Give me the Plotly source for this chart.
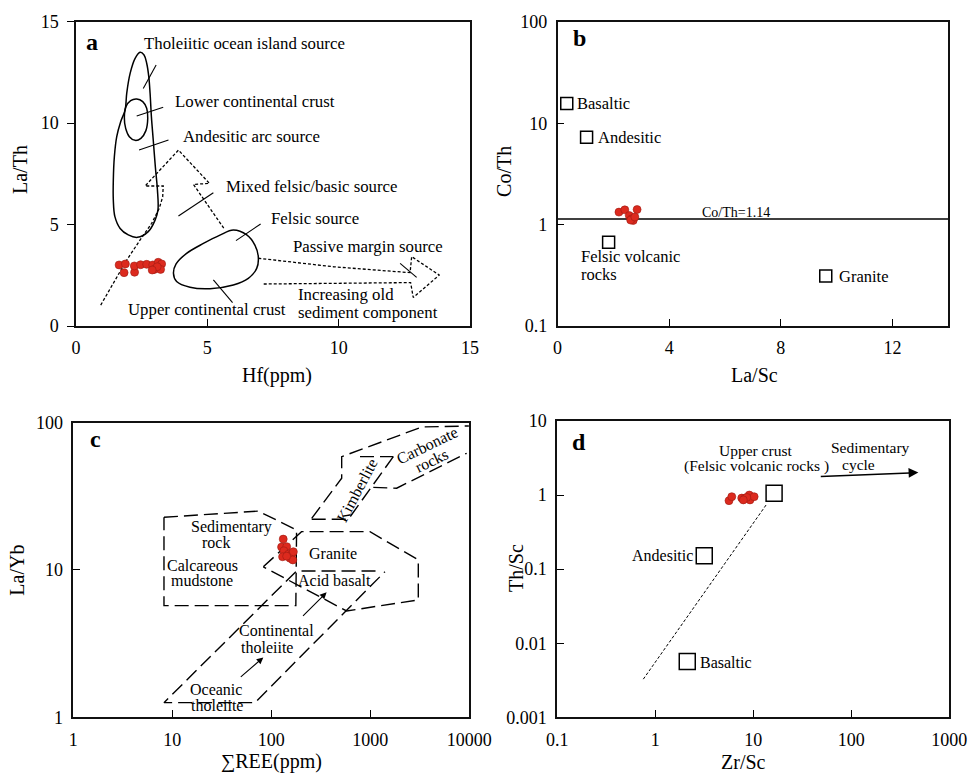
import numpy as np
import plotly.graph_objects as go

FONT = "Liberation Serif, Times New Roman, serif"
RED = "#dc2a1e"

# ---------------- Panel a : La/Th vs Hf ----------------
HF_A = [1.64, 1.88, 1.83, 2.23, 2.22, 2.46, 2.69, 2.92, 2.98, 3.13, 3.26, 3.22, 3.09, 2.90]
LATH_A = [3.01, 3.06, 2.63, 2.65, 2.96, 3.02, 3.04, 3.01, 2.79, 3.14, 3.06, 2.79, 2.92, 2.76]

OI_X = [2.44, 2.59, 2.69, 2.77, 2.82, 2.87, 2.94, 3.02, 3.10, 3.12, 3.01, 2.75, 2.34, 1.99, 1.68,
        1.48, 1.42, 1.42, 1.46, 1.55, 1.70, 1.87, 1.93, 2.06, 2.25, 2.44]
OI_Y = [13.49, 13.36, 12.95, 12.29, 11.47, 10.32, 9.17, 7.85, 6.70, 5.72, 5.22, 4.65, 4.37, 4.49, 4.81,
        5.39, 6.21, 7.20, 8.35, 9.33, 10.07, 10.65, 11.47, 12.45, 13.19, 13.49]
LCC_X = [2.31, 2.54, 2.69, 2.73, 2.66, 2.47, 2.25, 2.03, 1.89, 1.84, 1.90, 2.08, 2.31]
LCC_Y = [11.19, 11.06, 10.73, 10.24, 9.63, 9.25, 9.15, 9.33, 9.74, 10.28, 10.81, 11.11, 11.19]
FS_X = [5.99, 6.50, 6.81, 6.94, 6.88, 6.56, 5.99, 5.10, 4.34, 3.83, 3.71, 3.81, 4.21, 4.85, 5.48, 5.99]
FS_Y = [4.73, 4.49, 3.99, 3.42, 2.84, 2.35, 2.02, 1.84, 1.91, 2.19, 2.60, 3.06, 3.58, 4.07, 4.48, 4.73]
MIX_X = [0.94, 1.42, 1.93, 2.44, 2.88, 3.17, 3.30, 3.32, 2.63, 3.90, 5.08, 4.47, 4.97, 5.63]
MIX_Y = [1.03, 2.10, 3.25, 4.24, 5.06, 5.80, 6.37, 6.90, 6.90, 8.67, 7.03, 6.98, 6.05, 4.81]
PM_X = [6.94, 9.80, 12.72, 12.78, 13.83, 12.84, 12.74, 9.80, 7.13]
PM_Y = [3.34, 2.92, 2.63, 3.42, 2.51, 1.41, 2.14, 2.10, 2.07]
LEADERS_A = [  # (x0, y0, x1, y1)
    (2.56, 11.71, 3.05, 12.86),
    (2.31, 10.35, 3.32, 10.78),
    (2.40, 8.67, 3.52, 9.17),
    (3.90, 5.42, 5.23, 6.57),
    (6.09, 4.21, 7.03, 5.03),
    (5.23, 2.27, 5.96, 1.15),
    (12.34, 3.09, 12.97, 2.40),
]
LABELS_A = [  # text, x(left), y
    ("Tholeiitic ocean island source", 2.50, 13.93),
    ("Lower continental crust", 3.68, 11.05),
    ("Andesitic arc source", 4.00, 9.33),
    ("Mixed felsic/basic source", 5.64, 6.90),
    ("Felsic source", 7.36, 5.31),
    ("Passive margin source", 8.19, 3.91),
    ("Increasing old", 8.38, 1.53),
    ("sediment component", 8.38, 0.68),
    ("Upper continental crust", 1.90, 0.82),
]

# ---------------- Panel b : Co/Th vs La/Sc ----------------
LASC_B = [2.20, 2.41, 2.85, 2.57, 2.65, 2.71, 2.62, 2.77]
COTH_B = [1.33, 1.40, 1.41, 1.23, 1.14, 1.10, 1.11, 1.19]
REF_B_NAMES = ["Basaltic", "Andesitic", "Felsic volcanic rocks", "Granite"]
REF_B_X = [0.33, 1.04, 1.83, 9.61]
REF_B_Y = [15.7, 7.27, 0.67, 0.311]
COTH_LINE = 1.14

# ---------------- Panel c : La/Yb vs REE ----------------
REE_C = [132, 127, 143, 134, 149, 163, 130, 155, 165, 167, 143]
LAYB_C = [16.2, 14.3, 14.4, 13.5, 12.8, 13.0, 12.3, 12.0, 11.7, 13.3, 12.4]
SED_X = [8.24, 73.9, 180, 177, 8.24, 8.24]
SED_Y = [22.8, 25.1, 18.7, 5.73, 5.73, 22.8]
GRAN_X = [83.0, 202, 993, 3055, 3055, 577, 83.0]
GRAN_Y = [10.5, 18.2, 18.2, 11.7, 6.26, 5.27, 10.5]
THOL_X = [177, 8.24, 68.4, 1406]
THOL_Y = [9.74, 1.257, 1.257, 9.74]
ACID_X = [202, 1253]
ACID_Y = [9.84, 9.84]
KOUT_X = [256, 514, 514, 3327, 9900]
KOUT_Y = [22.4, 42.0, 58.8, 93.5, 95.0]
KIM_X = [256, 600, 1708]
KIM_Y = [22.1, 22.1, 58.8]
KTOP_X = [787, 1708]
KTOP_Y = [58.8, 58.8]
CARB_X = [1072, 1848, 9410]
CARB_Y = [36.4, 35.9, 62.0]
ARROWS_C = [((47.5, 1.84), (83.0, 2.55)), ((202, 4.77), (362, 7.05))]
LABELS_C = [  # text, x, y, angle
    ("Sedimentary", 39.7, 19.7, 0),
    ("rock", 27.6, 15.3, 0),
    ("Calcareous", 20.2, 10.8, 0),
    ("mudstone", 19.8, 8.42, 0),
    ("Granite", 423, 13.0, 0),
    ("Acid basalt", 440, 8.47, 0),
    ("Continental", 113, 3.88, 0),
    ("tholeiite", 89.7, 2.99, 0),
    ("Oceanic", 27.6, 1.55, 0),
    ("tholeiite", 28.1, 1.21, 0),
    ("Kimberlite", 728, 34.9, -62),
    ("Carbonate", 3707, 70.5, -26),
    ("rocks", 4165, 55.8, -26),
]

# ---------------- Panel d : Th/Sc vs Zr/Sc ----------------
ZRSC_D = [5.65, 6.03, 7.62, 8.23, 9.10, 9.25, 10.2, 8.57, 7.91]
THSC_D = [0.84, 0.95, 0.91, 0.91, 1.00, 0.86, 0.95, 0.93, 0.86]
REF_D_NAMES = ["Upper crust", "Andesitic", "Basaltic"]
REF_D_X = [16.3, 3.16, 2.12]
REF_D_Y = [1.06, 0.151, 0.00565]
TREND_D_X = [0.755, 13.5]
TREND_D_Y = [0.00327, 0.734]
SEDCYC_X = [47.1, 483]
SEDCYC_Y = [1.77, 2.01]

fig = go.Figure()


def add_line(ax, xs, ys, dash="solid", width=1.4, shape="linear"):
    fig.add_trace(go.Scatter(
        x=xs, y=ys, xaxis=ax[0], yaxis=ax[1], mode="lines",
        line=dict(color="black", width=width, dash=dash, shape=shape, smoothing=1.0),
        hoverinfo="skip", showlegend=False))


def add_dots(ax, xs, ys):
    fig.add_trace(go.Scatter(
        x=xs, y=ys, xaxis=ax[0], yaxis=ax[1], mode="markers",
        marker=dict(color=RED, size=8, line=dict(color="#9e1b12", width=0.6)),
        showlegend=False))


def add_squares(ax, xs, ys, size):
    fig.add_trace(go.Scatter(
        x=xs, y=ys, xaxis=ax[0], yaxis=ax[1], mode="markers",
        marker=dict(symbol="square-open", color="black", size=size, line=dict(color="black", width=1.5)),
        showlegend=False))


def add_text(ax, x, y, t, size=16, xanchor="center", logx=False, logy=False, angle=0):
    fig.add_annotation(
        x=np.log10(x) if logx else x, y=np.log10(y) if logy else y,
        xref=ax[0], yref=ax[1], text=t, showarrow=False, xanchor=xanchor, yanchor="middle",
        textangle=angle, font=dict(family=FONT, size=size, color="black"))


def add_paper_text(x, y, t, size=20, angle=0):
    fig.add_annotation(x=x, y=y, xref="paper", yref="paper", text=t, showarrow=False,
                       xanchor="center", yanchor="middle", textangle=angle,
                       font=dict(family=FONT, size=size, color="black"))


A = ("x", "y")
B = ("x2", "y2")
C = ("x3", "y3")
D = ("x4", "y4")

# ---- panel a
add_line(A, OI_X, OI_Y, width=1.5, shape="spline")
add_line(A, LCC_X, LCC_Y, width=1.5, shape="spline")
add_line(A, FS_X, FS_Y, width=1.5, shape="spline")
add_line(A, MIX_X, MIX_Y, dash="3px,2px", width=1.3)
add_line(A, PM_X, PM_Y, dash="3px,2px", width=1.3)
for x0, y0, x1, y1 in LEADERS_A:
    add_line(A, [x0, x1], [y0, y1], width=1.1)
add_dots(A, HF_A, LATH_A)
for t, x, y in LABELS_A:
    add_text(A, x, y, t, size=16.8, xanchor="left")
add_text(A, 0.6, 14.0, "<b>a</b>", size=24)

# ---- panel b
add_line(B, [0, 14], [COTH_LINE, COTH_LINE], width=1.5)
add_squares(B, REF_B_X, REF_B_Y, 12)
add_dots(B, LASC_B, COTH_B)
add_text(B, 0.62, REF_B_Y[0], REF_B_NAMES[0], size=16.5, xanchor="left", logy=True)
add_text(B, 1.38, REF_B_Y[1], REF_B_NAMES[1], size=16.5, xanchor="left", logy=True)
add_text(B, 0.77, 0.482, "Felsic volcanic", size=16.5, xanchor="left", logy=True)
add_text(B, 0.77, 0.325, "rocks", size=16.5, xanchor="left", logy=True)
add_text(B, 10.0, REF_B_Y[3], REF_B_NAMES[3], size=16.5, xanchor="left", logy=True)
add_text(B, 5.10, 1.33, "Co/Th=1.14", size=14, xanchor="left", logy=True)
add_text(B, 0.78, 69, "<b>b</b>", size=24, logy=True)

# ---- panel c
LD = "14px,6px"
for xs, ys in [(SED_X, SED_Y), (GRAN_X, GRAN_Y), (THOL_X, THOL_Y), (ACID_X, ACID_Y),
               (KOUT_X, KOUT_Y), (KIM_X, KIM_Y), (KTOP_X, KTOP_Y), (CARB_X, CARB_Y)]:
    add_line(C, xs, ys, dash=LD, width=1.4)
add_dots(C, REE_C, LAYB_C)
for (sx, sy), (ex, ey) in ARROWS_C:
    fig.add_annotation(x=np.log10(ex), y=np.log10(ey), ax=np.log10(sx), ay=np.log10(sy),
                       xref="x3", yref="y3", axref="x3", ayref="y3", showarrow=True,
                       arrowhead=2, arrowsize=1.2, arrowwidth=1.1, arrowcolor="black", text="")
for t, x, y, ang in LABELS_C:
    add_text(C, x, y, t, logx=True, logy=True, angle=ang)
add_text(C, 1.68, 77.1, "<b>c</b>", size=24, logx=True, logy=True)

# ---- panel d
add_line(D, TREND_D_X, TREND_D_Y, dash="3px,2px", width=1.0)
add_squares(D, REF_D_X, REF_D_Y, 16)
add_dots(D, ZRSC_D, THSC_D)
fig.add_annotation(x=np.log10(SEDCYC_X[1]), y=np.log10(SEDCYC_Y[1]),
                   ax=np.log10(SEDCYC_X[0]), ay=np.log10(SEDCYC_Y[0]),
                   xref="x4", yref="y4", axref="x4", ayref="y4", showarrow=True,
                   arrowhead=2, arrowsize=1.3, arrowwidth=1.5, arrowcolor="black", text="")
add_text(D, 10.6, 3.95, "Upper crust", size=15.5, logx=True, logy=True)
add_text(D, 10.8, 2.45, "(Felsic volcanic rocks )", size=15.5, logx=True, logy=True)
add_text(D, 157, 4.35, "Sedimentary", size=15.5, logx=True, logy=True)
add_text(D, 118, 2.56, "cycle", size=15.5, logx=True, logy=True)
add_text(D, 2.54, REF_D_Y[1], REF_D_NAMES[1], xanchor="right", logx=True, logy=True)
add_text(D, 2.75, 0.00548, REF_D_NAMES[2], xanchor="left", logx=True, logy=True)
add_text(D, 0.167, 5.26, "<b>d</b>", size=24, logx=True, logy=True)

# ---- axis titles
add_paper_text(0.0206, 0.7804, "La/Th", angle=-90)
add_paper_text(0.2853, 0.5155, "Hf(ppm)")
add_paper_text(0.5183, 0.7782, "Co/Th", angle=-90)
add_paper_text(0.7775, 0.5155, "La/Sc")
add_paper_text(0.0172, 0.2636, "La/Yb", angle=-90)
add_paper_text(0.2798, 0.0160, "∑REE(ppm)")
add_paper_text(0.5321, 0.2658, "Th/Sc", angle=-90)
add_paper_text(0.7655, 0.0160, "Zr/Sc")


def ax_style(**kw):
    d = dict(showline=True, linecolor="#111111", linewidth=1.6, mirror=True, showgrid=False,
             zeroline=False, ticks="inside", ticklen=7, tickwidth=1.3, tickcolor="black",
             tickfont=dict(family=FONT, size=18, color="black"), ticklabelstandoff=5,
             fixedrange=True, automargin=False)
    d.update(kw)
    return d


fig.update_layout(
    width=971, height=774, margin=dict(l=0, r=0, t=0, b=0, pad=0, autoexpand=False),
    autosize=False,
    paper_bgcolor="white", plot_bgcolor="white", showlegend=False,
    xaxis=ax_style(domain=[0.0783, 0.4840], range=[0, 15], tickvals=[0, 5, 10, 15], anchor="y"),
    yaxis=ax_style(domain=[0.5788, 0.9720], range=[0, 15], tickvals=[0, 5, 10, 15], anchor="x",
                   ticks="outside"),
    xaxis2=ax_style(domain=[0.5742, 0.9766], range=[0, 14], tickvals=[0, 4, 8, 12], anchor="y2"),
    yaxis2=ax_style(domain=[0.5788, 0.9716], type="log", range=[-1, 2], tickvals=[0.1, 1, 10, 100],
                    ticktext=["0.1", "1", "10", "100"], anchor="x2"),
    xaxis3=ax_style(domain=[0.0755, 0.4833], type="log", range=[0, 4],
                    tickvals=[1, 10, 100, 1000, 10000], ticktext=["1", "10", "100", "1000", "10000"],
                    anchor="y3"),
    yaxis3=ax_style(domain=[0.0733, 0.4539], type="log", range=[0, 2], tickvals=[1, 10, 100],
                    ticktext=["1", "10", "100"], anchor="x3"),
    xaxis4=ax_style(domain=[0.5739, 0.9777], type="log", range=[-1, 3],
                    tickvals=[0.1, 1, 10, 100, 1000], ticktext=["0.1", "1", "10", "100", "1000"],
                    anchor="y4"),
    yaxis4=ax_style(domain=[0.0733, 0.4561], type="log", range=[-3, 1],
                    tickvals=[0.001, 0.01, 0.1, 1, 10], ticktext=["0.001", "0.01", "0.1", "1", "10"],
                    anchor="x4"),
)

fig.write_html("out.html")
